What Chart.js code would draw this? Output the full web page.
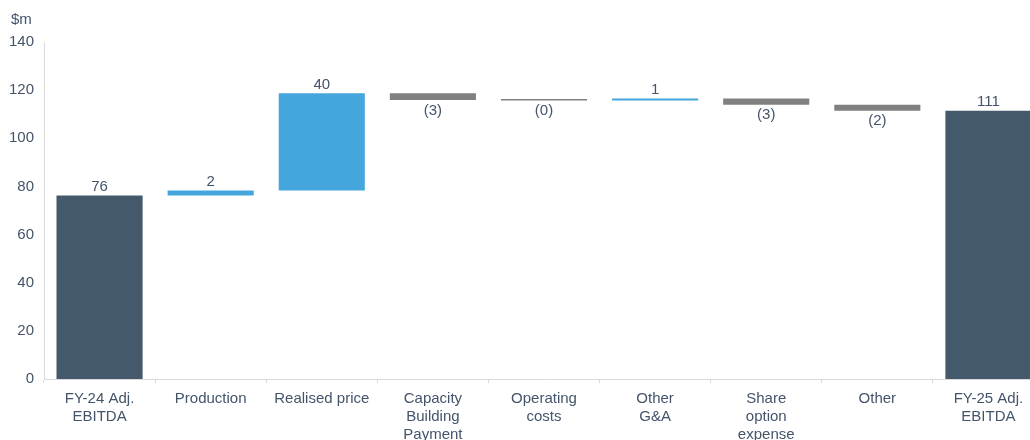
<!DOCTYPE html>
<html>
<head>
<meta charset="utf-8">
<script src="https://cdn.jsdelivr.net/npm/chart.js@4"></script>
<style>
    body { margin: 0; background: #fff; overflow: hidden; }
    #wrap { position: relative; width: 1044px; height: 440px; }
    #unit { position: absolute; left: 11px; top: 10px; font: 15px "Liberation Sans", Arial, sans-serif; color: #44546a; }
</style>
</head>
<body>
<div id="wrap">
    <div id="unit">$m</div>
    <canvas id="bridgeChart" width="1044" height="440"></canvas>
</div>
<script>
// 카테고리 / 값
var categories = [["FY-24 Adj.", "EBITDA"], "Production", "Realised price", ["Capacity", "Building", "Payment"],
    ["Operating", "costs"], ["Other", "G&A"], ["Share", "option", "expense"], "Other", ["FY-25 Adj.", "EBITDA"]];
var openingEbitda = 76.2;
var changes = [2.1, 40.4, -2.8, -0.2, 0.8, -2.6, -2.45];
var yTicks = [0, 20, 40, 60, 80, 100, 120, 140];

var totalColor = "#44596b";
var upColor = "#45a6dd";
var downColor = "#808080";
var textColor = "#44546a";
var fontFamily = "'Liberation Sans', Arial, sans-serif";

// floating bar 데이터 만들기
var bars = [[0, openingEbitda]];
var colors = [totalColor];
var labels = [String(Math.round(openingEbitda))];
var running = openingEbitda;
for (var i = 0; i < changes.length; i++) {
    var next = running + changes[i];
    bars.push([running, next]);
    colors.push(changes[i] >= 0 ? upColor : downColor);
    labels.push(changes[i] >= 0 ? String(Math.round(changes[i])) : "(" + Math.round(-changes[i]) + ")");
    running = next;
}
bars.push([0, running]);
colors.push(totalColor);
labels.push(String(Math.round(running)));

// 값 라벨 플러그인
var valueLabels = {
    id: "valueLabels",
    afterDatasetsDraw: function (chart) {
        var ctx = chart.ctx;
        var meta = chart.getDatasetMeta(0);
        ctx.save();
        ctx.font = "15px " + fontFamily;
        ctx.fillStyle = textColor;
        ctx.textAlign = "center";
        meta.data.forEach(function (bar, idx) {
            var negative = idx > 0 && idx < bars.length - 1 && changes[idx - 1] < 0;
            var top = Math.min(bar.y, bar.base);
            var bottom = Math.max(bar.y, bar.base);
            if (negative) {
                ctx.textBaseline = "top";
                ctx.fillText(labels[idx], bar.x, bottom + 3);
            } else {
                ctx.textBaseline = "bottom";
                ctx.fillText(labels[idx], bar.x, top - 1);
            }
        });
        ctx.restore();
    }
};

var ctx = document.getElementById("bridgeChart").getContext("2d");
var bridgeChart = new Chart(ctx, {
    type: "bar",
    data: {
        labels: categories,
        datasets: [{
            data: bars,
            backgroundColor: colors,
            borderWidth: 0,
            barPercentage: 1,
            categoryPercentage: 0.775,
            minBarLength: 1.5
        }]
    },
    options: {
        responsive: false,
        animation: false,
        layout: { padding: { top: 42, right: 0, left: 0, bottom: 0 } },
        plugins: {
            legend: { display: false },
            tooltip: { enabled: false }
        },
        scales: {
            x: {
                grid: { display: true, offset: true, drawOnChartArea: false, drawTicks: true, tickLength: 4, color: "#d9d9d9" },
                border: { display: true, color: "#d9d9d9", width: 1 },
                ticks: {
                    color: textColor,
                    padding: 7,
                    maxRotation: 0,
                    autoSkip: false,
                    font: { family: fontFamily, size: 15, lineHeight: 1.2 }
                },
                afterFit: function (scale) { scale.height = 61; }
            },
            y: {
                min: 0,
                max: 140,
                afterBuildTicks: function (scale) {
                    scale.ticks = yTicks.map(function (v) { return { value: v }; });
                },
                grid: { display: false, drawTicks: false },
                border: { display: true, color: "#d9d9d9", width: 1 },
                ticks: {
                    color: textColor,
                    padding: 10,
                    font: { family: fontFamily, size: 15 }
                },
                afterFit: function (scale) { scale.width = 44; }
            }
        }
    },
    plugins: [valueLabels]
});
</script>
</body>
</html>
